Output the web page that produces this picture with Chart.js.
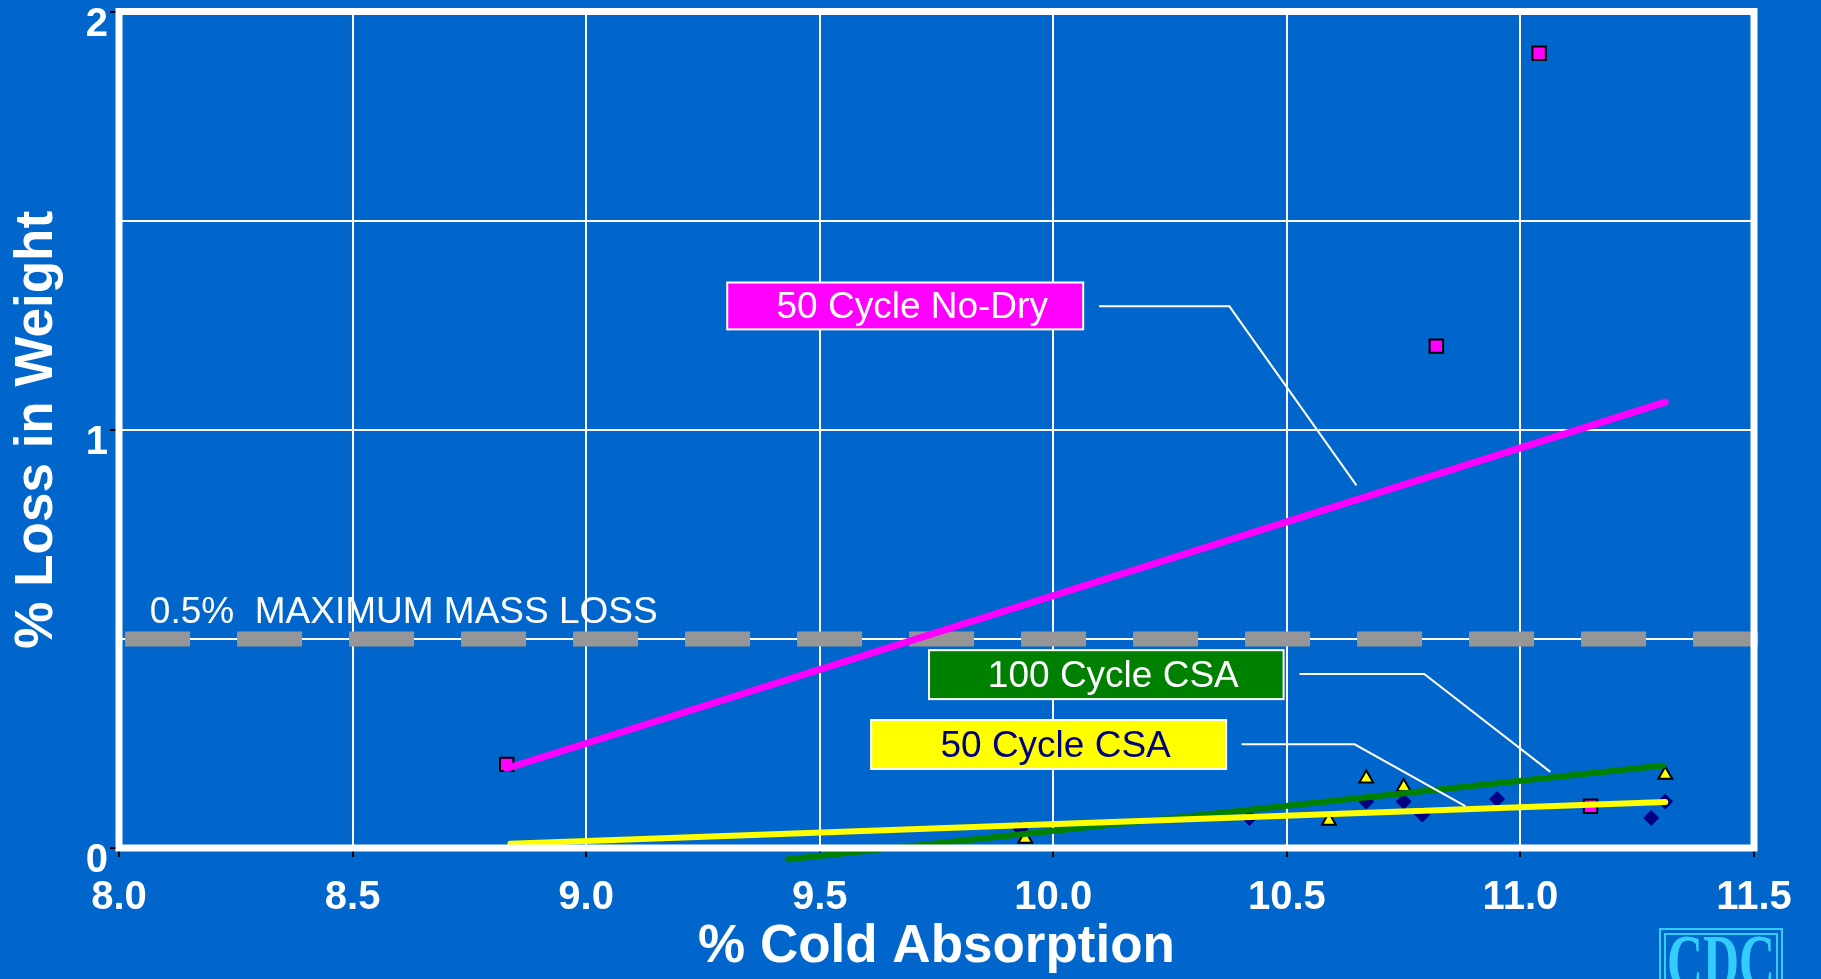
<!DOCTYPE html>
<html>
<head>
<meta charset="utf-8">
<title>% Loss in Weight vs % Cold Absorption</title>
<script src="https://cdn.jsdelivr.net/npm/chart.js@4.4.1/dist/chart.umd.min.js"></script>
<style>
  html, body { margin: 0; padding: 0; background: #0066CC; }
  #wrap { width: 1821px; height: 979px; position: relative; }
</style>
</head>
<body>
<div id="wrap"><canvas id="chart-freeze-thaw"></canvas></div>
<script>
// ============================================================
// Specimen results: % cold absorption (x) vs % loss in weight (y)
// ============================================================
const noDryAbsorption = [8.83, 10.82, 11.04, 11.15];
const noDryLoss       = [0.20, 1.20, 1.90, 0.10];

const csa100Absorption = [9.94, 10.59, 10.67, 10.75, 11.31];
const csa100Loss       = [0.022, 0.065, 0.166, 0.146, 0.175];

const csa50Absorption = [9.93, 10.42, 10.67, 10.75, 10.79, 10.95, 11.28, 11.31];
const csa50Loss       = [0.045, 0.072, 0.111, 0.111, 0.080, 0.117, 0.072, 0.111];

// Fitted trend lines (end points)
const noDryFitX  = [8.83, 11.31];
const noDryFitY  = [0.19, 1.066];
const csa100FitX = [9.433, 11.306];
const csa100FitY = [-0.027, 0.197];
const csa50FitX  = [8.838, 11.31];
const csa50FitY  = [0.010, 0.110];

// 0.5 % maximum mass loss limit
const maxMassLoss = 0.5;
const limitX = [8.013, 11.514];

// Axis ranges
const xMin = 8.0, xMax = 11.5, xStep = 0.5;
const yMin = 0, yMax = 2, yStep = 0.5;

const FONT = "'Liberation Sans', Arial, Helvetica, sans-serif";
const pts = (xs, ys) => xs.map((x, i) => ({ x, y: ys[i] }));

// ============================================================
// Callout boxes with leader lines (data units)
// ============================================================
const callouts = [
  { text: '50 Cycle No-Dry', fill: '#FF00FF', color: '#FFFFFF',
    box: [9.302, 10.064, 1.352, 1.240],
    leader: [[10.098, 1.295], [10.377, 1.295], [10.649, 0.867]] },
  { text: '100 Cycle CSA', fill: '#008000', color: '#FFFFFF',
    box: [9.734, 10.493, 0.473, 0.356],
    leader: [[10.527, 0.416], [10.794, 0.416], [11.064, 0.182]] },
  { text: '50 Cycle CSA', fill: '#FFFF00', color: '#000080',
    box: [9.610, 10.370, 0.306, 0.189],
    leader: [[10.403, 0.248], [10.645, 0.248], [10.882, 0.100]] }
];

// Plot frame drawn over the data so it hides line ends below the axis
const plotFrame = {
  id: 'plotFrame',
  afterDatasetsDraw(chart) {
    const { ctx, chartArea: a } = chart;
    ctx.save();
    ctx.strokeStyle = '#FFFFFF';
    ctx.lineWidth = 7;
    ctx.strokeRect(a.left, a.top, a.right - a.left, a.bottom - a.top);
    ctx.restore();
  }
};

// Limit label, callouts and corner logo
const notes = {
  id: 'notes',
  afterDraw(chart) {
    const { ctx, scales: { x, y } } = chart;
    ctx.save();

    ctx.fillStyle = '#FFFFFF';
    ctx.font = `37px ${FONT}`;
    ctx.textAlign = 'left';
    ctx.textBaseline = 'alphabetic';
    ctx.fillText('0.5%  MAXIMUM MASS LOSS', x.getPixelForValue(8.066), y.getPixelForValue(0.538));

    callouts.forEach(c => {
      const [x1, x2, y1, y2] = c.box;
      const l = x.getPixelForValue(x1), r = x.getPixelForValue(x2);
      const t = y.getPixelForValue(y1), b = y.getPixelForValue(y2);
      ctx.fillStyle = c.fill;
      ctx.fillRect(l, t, r - l, b - t);
      ctx.strokeStyle = '#FFFFFF';
      ctx.lineWidth = 2;
      ctx.strokeRect(l, t, r - l, b - t);
      ctx.fillStyle = c.color;
      ctx.font = `37px ${FONT}`;
      ctx.textAlign = 'center';
      ctx.textBaseline = 'middle';
      ctx.fillText(c.text, (l + r) / 2 + 7, (t + b) / 2 + 2);

      ctx.beginPath();
      c.leader.forEach(([lx, ly], i) => {
        const px = x.getPixelForValue(lx), py = y.getPixelForValue(ly);
        if (i === 0) ctx.moveTo(px, py); else ctx.lineTo(px, py);
      });
      ctx.lineWidth = 2;
      ctx.stroke();
    });

    // CDC mark, bottom right corner
    ctx.strokeStyle = '#33CCFF';
    ctx.lineWidth = 2;
    ctx.strokeRect(1660, 929, 122, 60);
    ctx.strokeRect(1665, 934, 112, 55);
    ctx.fillStyle = '#33CCFF';
    ctx.translate(1721, 988);
    ctx.scale(0.64, 1);
    ctx.font = "bold 78px 'Liberation Serif', 'DejaVu Serif', serif";
    ctx.textAlign = 'center';
    ctx.textBaseline = 'alphabetic';
    ctx.fillText('CDC', 0, 0);

    ctx.restore();
  }
};

// Fixed axis boxes; no extra room for overhanging tick labels
function fixBox(size) {
  return s => {
    if (s.isHorizontal()) s.height = size; else s.width = size;
    s.paddingTop = 0;
    s.paddingBottom = 0;
    s.paddingLeft = 0;
    s.paddingRight = 0;
  };
}

// ============================================================
// Chart
// ============================================================
function renderChart() {
  const ctx = document.getElementById('chart-freeze-thaw');
  Chart.defaults.font.family = FONT;

  const fitLine = (label, xs, ys, color, width, order) => ({
    type: 'line', label, data: pts(xs, ys),
    borderColor: color, borderWidth: width, borderCapStyle: 'round',
    pointRadius: 0, showLine: true, fill: false, clip: false, order
  });

  return new Chart(ctx, {
    type: 'scatter',
    data: {
      datasets: [
        fitLine('50 Cycle No-Dry fit', noDryFitX, noDryFitY, '#FF00FF', 7, 1),
        fitLine('50 Cycle CSA fit', csa50FitX, csa50FitY, '#FFFF00', 6, 2),
        fitLine('100 Cycle CSA fit', csa100FitX, csa100FitY, '#008000', 6, 3),
        {
          type: 'line', label: 'Maximum mass loss',
          data: limitX.map(v => ({ x: v, y: maxMassLoss })),
          borderColor: '#969696', borderWidth: 15, borderDash: [65, 47],
          borderCapStyle: 'butt', pointRadius: 0, clip: false, order: 4
        },
        {
          label: '50 Cycle No-Dry', data: pts(noDryAbsorption, noDryLoss),
          pointStyle: 'rect', pointRadius: 9.5, backgroundColor: '#FF00FF',
          borderColor: '#000000', borderWidth: 2, order: 5
        },
        {
          label: '100 Cycle CSA', data: pts(csa100Absorption, csa100Loss),
          pointStyle: 'triangle', pointRadius: 8, backgroundColor: '#FFFF00',
          borderColor: '#000000', borderWidth: 2, order: 6
        },
        {
          label: '50 Cycle CSA', data: pts(csa50Absorption, csa50Loss),
          pointStyle: 'rectRot', pointRadius: 7.5, backgroundColor: '#000080',
          borderColor: '#000080', borderWidth: 1, order: 7
        }
      ]
    },
    options: {
      responsive: true,
      maintainAspectRatio: false,
      animation: false,
      layout: { padding: { top: 11, right: 67, bottom: 0, left: 0 } },
      plugins: { legend: { display: false }, tooltip: { enabled: false } },
      scales: {
        x: {
          type: 'linear', min: xMin, max: xMax,
          afterFit: fixBox(131),
          border: { display: false },
          grid: { color: '#FFFFFF', lineWidth: 2, tickColor: '#000000', tickWidth: 2, tickLength: 9 },
          ticks: {
            stepSize: xStep, color: '#FFFFFF', padding: 17,
            font: { size: 40, weight: 'bold' },
            callback: v => v.toFixed(1)
          },
          title: {
            display: true, text: '% Cold Absorption', color: '#FFFFFF',
            font: { size: 53, weight: 'bold', lineHeight: 1.2 },
            padding: { top: 0, bottom: 0 }
          }
        },
        y: {
          min: yMin, max: yMax,
          afterFit: fixBox(119),
          border: { display: false },
          grid: {
            color: '#FFFFFF', lineWidth: 2, tickWidth: 2, tickLength: 9,
            tickColor: c => Number.isInteger(c.tick.value) ? '#000000' : 'rgba(0,0,0,0)'
          },
          ticks: {
            stepSize: yStep, color: '#FFFFFF', padding: 2, labelOffset: 13,
            font: { size: 40, weight: 'bold' },
            callback: v => Number.isInteger(v) ? String(v) : ''
          },
          title: {
            display: true, text: '% Loss in Weight', color: '#FFFFFF',
            font: { size: 53, weight: 'bold', lineHeight: 1.2 },
            padding: { top: 6, bottom: 0 }
          }
        }
      }
    },
    plugins: [plotFrame, notes]
  });
}

renderChart();
</script>
</body>
</html>
